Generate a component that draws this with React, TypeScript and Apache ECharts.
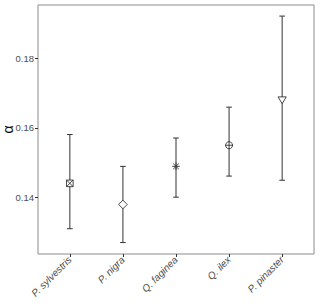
import React, { useEffect, useRef } from "react";
import * as echarts from "echarts";

const categories = ["P. sylvestris", "P. nigra", "Q. faginea", "Q. ilex", "P. pinaster"];
const means = [0.144, 0.1379, 0.1489, 0.155, 0.1681];
const lowers = [0.1309, 0.1269, 0.14, 0.1461, 0.1449];
const uppers = [0.1581, 0.1489, 0.1571, 0.166, 0.1923];
const shapes = ["squareCross", "diamond", "asterisk", "circlePlus", "triangleDown"];
const yTicks = [0.14, 0.16, 0.18];

export default function App() {
  const ref = useRef<HTMLDivElement>(null);
  useEffect(() => {
    if (!ref.current) return;
    const chart = echarts.init(ref.current, null, { renderer: "svg" });
    // category i sits at position i + 0.6 on a 0..5.2 axis (0.6 padding each side)
    const pos = categories.map((_, i) => i + 0.6);
    const data = categories.map((c, i) => [pos[i], means[i], lowers[i], uppers[i], i]);
    const stroke = "#333333";
    const font = "Liberation Sans, Arial, sans-serif";
    chart.setOption({
      animation: false,
      backgroundColor: "#ffffff",
      grid: {
        left: 38,
        right: 6,
        top: 5,
        bottom: 51,
        outerBoundsMode: "none",
        containLabel: false,
        show: true,
        borderColor: "#8c8c8c",
        borderWidth: 1,
        backgroundColor: "transparent",
      },
      xAxis: {
        type: "value",
        min: 0,
        max: 5.2,
        splitLine: { show: false },
        axisLine: { show: false },
        axisTick: { show: true, length: 3, customValues: pos, lineStyle: { color: "#333" } },
        axisLabel: {
          customValues: pos,
          formatter: (v: number) => categories[Math.round(v - 0.6)] ?? "",
          rotate: 45,
          fontSize: 10,
          fontStyle: "italic",
          color: "#4d4d4d",
          fontFamily: font,
          margin: 4,
        },
      },
      yAxis: {
        type: "value",
        min: 0.1236,
        max: 0.1955,
        name: "α",
        nameLocation: "middle",
        nameRotate: 90,
        nameGap: 23,
        nameMoveOverlap: false,
        nameTextStyle: { fontSize: 14, color: "#000", fontFamily: font },
        splitLine: { show: false },
        axisLine: { show: false },
        axisTick: { show: true, length: 3, customValues: yTicks, lineStyle: { color: "#333" } },
        axisLabel: {
          customValues: yTicks,
          formatter: (v: number) => v.toFixed(2),
          fontSize: 9.5,
          color: "#4d4d4d",
          fontFamily: font,
          margin: 4,
        },
      },
      series: [
        {
          type: "custom",
          data,
          encode: { x: 0, y: [1, 2, 3] },
          renderItem: (params: any, api: any) => {
            const x = api.value(0);
            const top = api.coord([x, api.value(3)]);
            const bot = api.coord([x, api.value(2)]);
            const mid = api.coord([x, api.value(1)]);
            const cap = 2.8;
            const r = 3.8;
            const ls = { stroke, lineWidth: 1, fill: "none" };
            const cx = mid[0];
            const cy = mid[1];
            const children: any[] = [
              { type: "line", shape: { x1: top[0], y1: top[1], x2: bot[0], y2: bot[1] }, style: ls },
              { type: "line", shape: { x1: top[0] - cap, y1: top[1], x2: top[0] + cap, y2: top[1] }, style: ls },
              { type: "line", shape: { x1: bot[0] - cap, y1: bot[1], x2: bot[0] + cap, y2: bot[1] }, style: ls },
            ];
            const shape = shapes[api.value(4)];
            const ms = { stroke, lineWidth: 0.9, fill: "#ffffff" };
            const ml = { stroke, lineWidth: 0.9 };
            if (shape === "squareCross") {
              children.push({ type: "rect", shape: { x: cx - r + 0.5, y: cy - r + 0.5, width: 2 * r - 1, height: 2 * r - 1 }, style: ms });
              children.push({ type: "line", shape: { x1: cx - r + 0.5, y1: cy - r + 0.5, x2: cx + r - 0.5, y2: cy + r - 0.5 }, style: ml });
              children.push({ type: "line", shape: { x1: cx - r + 0.5, y1: cy + r - 0.5, x2: cx + r - 0.5, y2: cy - r + 0.5 }, style: ml });
            } else if (shape === "diamond") {
              children.push({ type: "polygon", shape: { points: [[cx, cy - r - 0.5], [cx + r + 0.5, cy], [cx, cy + r + 0.5], [cx - r - 0.5, cy]] }, style: ms });
            } else if (shape === "asterisk") {
              const d = r * 0.75;
              children.push({ type: "line", shape: { x1: cx - r, y1: cy, x2: cx + r, y2: cy }, style: ml });
              children.push({ type: "line", shape: { x1: cx, y1: cy - r, x2: cx, y2: cy + r }, style: ml });
              children.push({ type: "line", shape: { x1: cx - d, y1: cy - d, x2: cx + d, y2: cy + d }, style: ml });
              children.push({ type: "line", shape: { x1: cx - d, y1: cy + d, x2: cx + d, y2: cy - d }, style: ml });
            } else if (shape === "circlePlus") {
              children.push({ type: "circle", shape: { cx, cy, r: r - 0.3 }, style: ms });
              children.push({ type: "line", shape: { x1: cx - r, y1: cy, x2: cx + r, y2: cy }, style: ml });
              children.push({ type: "line", shape: { x1: cx, y1: cy - r, x2: cx, y2: cy + r }, style: ml });
            } else if (shape === "triangleDown") {
              children.push({ type: "polygon", shape: { points: [[cx - r - 0.3, cy - r + 0.8], [cx + r + 0.3, cy - r + 0.8], [cx, cy + r]] }, style: ms });
            }
            return { type: "group", children };
          },
        },
      ],
    });
    return () => chart.dispose();
  }, []);
  return <div ref={ref} style={{ position: "absolute", left: 0, top: 0, width: 320, height: 305 }} />;
}
